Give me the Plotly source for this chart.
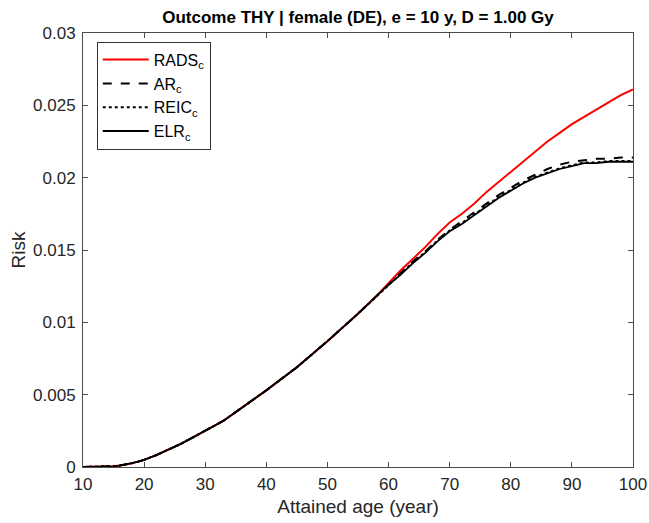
import plotly.graph_objects as go

age = [10, 12, 13, 14, 15, 16, 17, 18, 19, 20, 22, 24, 26, 28, 30, 33, 36, 40, 45, 50, 55, 58,
       60, 62, 64, 66, 68, 70, 72, 74, 76, 78, 80, 82, 84, 86, 88, 90, 92, 94, 96, 98, 100]

common = [0, 0, 0.000005, 0.00002, 0.00005, 0.0001, 0.00017, 0.00026, 0.00037, 0.00049,
          0.00082, 0.0012, 0.0016, 0.00205, 0.0025, 0.0032, 0.0041, 0.0053, 0.0069,
          0.0087, 0.0106, 0.0118]

rads_tail = [0.0127, 0.0136, 0.0144, 0.0152, 0.0161, 0.0169, 0.0175, 0.0182, 0.0190,
             0.0197, 0.0204, 0.0211, 0.0218, 0.0225, 0.0231, 0.0237, 0.0242, 0.0247,
             0.0252, 0.0257, 0.0261]
ar_tail = [0.0126, 0.0134, 0.0142, 0.0149, 0.0157, 0.0164, 0.0170, 0.0176, 0.0182,
           0.0188, 0.0193, 0.0198, 0.0202, 0.0206, 0.0209, 0.0211, 0.0212, 0.0213,
           0.0213, 0.0214, 0.0214]
reic_tail = [0.0126, 0.01335, 0.01415, 0.01485, 0.01565, 0.01635, 0.01685, 0.01745,
             0.01805, 0.01865, 0.01915, 0.01965, 0.02005, 0.02035, 0.02065, 0.02085,
             0.02105, 0.02105, 0.02115, 0.02115, 0.02115]
elr_tail = [0.0126, 0.0133, 0.0141, 0.0148, 0.0156, 0.0163, 0.0168, 0.0174, 0.0180,
            0.0186, 0.0191, 0.0196, 0.0200, 0.0203, 0.0206, 0.0208, 0.0210, 0.0210,
            0.0211, 0.0211, 0.0211]

rads = common + rads_tail
ar = common + ar_tail
reic = common + reic_tail
elr = common + elr_tail

x_ticks = [10, 20, 30, 40, 50, 60, 70, 80, 90, 100]
y_ticks = [0, 0.005, 0.01, 0.015, 0.02, 0.025, 0.03]
y_tick_text = ["0", "0.005", "0.01", "0.015", "0.02", "0.025", "0.03"]

fig = go.Figure()
fig.add_trace(go.Scatter(x=age, y=rads, mode="lines", name="RADS<sub>c</sub>",
                         line=dict(color="#ff0000", width=2)))
fig.add_trace(go.Scatter(x=age, y=ar, mode="lines", name="AR<sub>c</sub>",
                         line=dict(color="black", width=2, dash="dash")))
fig.add_trace(go.Scatter(x=age, y=reic, mode="lines", name="REIC<sub>c</sub>",
                         line=dict(color="black", width=2, dash="dot")))
fig.add_trace(go.Scatter(x=age, y=elr, mode="lines", name="ELR<sub>c</sub>",
                         line=dict(color="black", width=1.8)))

axis_common = dict(showline=True, linecolor="#4d4d4d", linewidth=1, mirror="ticks",
                   ticks="inside", ticklen=5, tickcolor="#4d4d4d", showgrid=False,
                   zeroline=False, automargin=False,
                   tickfont=dict(size=17, color="#262626"))

fig.update_layout(
    width=649, height=523,
    margin=dict(l=83, r=16, t=33, b=56),
    paper_bgcolor="white", plot_bgcolor="white",
    font=dict(family="Arial, Liberation Sans, sans-serif", color="#262626"),
    title=dict(text="<b>Outcome THY | female (DE), e = 10 y, D = 1.00 Gy</b>",
               x=0.5, xref="paper", xanchor="center", y=0.967, yanchor="middle",
               font=dict(size=17, color="black")),
    xaxis=dict(range=[10, 100], tickvals=x_ticks, ticklabelstandoff=2,
               title=dict(text="Attained age (year)", font=dict(size=19), standoff=6),
               **axis_common),
    yaxis=dict(range=[0, 0.03], tickvals=y_ticks, ticktext=y_tick_text,
               ticklabelstandoff=3,
               title=dict(text="Risk", font=dict(size=19), standoff=2),
               **axis_common),
    legend=dict(x=0.025, y=0.98, xanchor="left", yanchor="top",
                bordercolor="#333333", borderwidth=1, bgcolor="white",
                itemwidth=46,
                font=dict(size=16, color="black"), tracegroupgap=0),
    showlegend=True,
)

fig.write_html("out.html")
